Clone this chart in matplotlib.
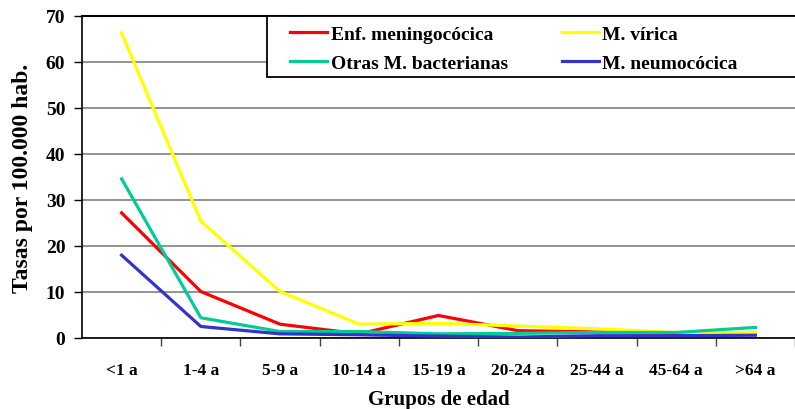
import matplotlib
matplotlib.use("Agg")
import matplotlib.pyplot as plt
from matplotlib.patches import Rectangle
import numpy as np

categories = ["<1 a", "1-4 a", "5-9 a", "10-14 a", "15-19 a", "20-24 a", "25-44 a", "45-64 a", ">64 a"]
enf_meningococica = [27.2, 10.1, 3.0, 0.9, 4.9, 1.6, 1.3, 1.0, 0.9]
m_virica = [66.3, 25.4, 10.1, 3.0, 3.2, 2.6, 2.0, 1.2, 1.2]
otras_bacterianas = [34.6, 4.4, 1.4, 1.4, 0.9, 1.0, 1.2, 1.2, 2.3]
m_neumococica = [18.0, 2.5, 0.9, 0.7, 0.4, 0.2, 0.5, 0.5, 0.6]
yticks = [0, 10, 20, 30, 40, 50, 60, 70]

series = [
    ("Enf. meningocócica", enf_meningococica, "#FF0000"),
    ("M. vírica", m_virica, "#FFFF00"),
    ("Otras M. bacterianas", otras_bacterianas, "#00CC99"),
    ("M. neumocócica", m_neumococica, "#3333CC"),
]

plt.rcParams['font.family'] = ['Liberation Serif', 'DejaVu Serif']
plt.rcParams['font.weight'] = 'bold'

W, H = 795, 410
fig = plt.figure(figsize=(W / 100, H / 100), dpi=100)
ax = fig.add_axes([82 / W, 1 - 339 / H, (795 - 82) / W, (339 - 17) / H])

x = np.arange(len(categories))
handles = {}
for name, vals, col in series:
    h, = ax.plot(x, vals, color=col, lw=2.3, label=name, zorder=3)
    handles[name] = h

ax.set_xlim(-0.5, (795 - 122) / 80.5)
ax.set_ylim(0, 70)
ax.set_yticks(yticks)
ax.set_yticklabels([str(v) for v in yticks], fontsize=14, fontweight='bold')
ax.set_xticks(x)
ax.set_xticklabels(categories, fontsize=12.5, fontweight='bold')
ax.set_xticks(np.arange(len(categories)) + 0.5, minor=True)
ax.tick_params(axis='x', which='major', length=0, pad=17)
ax.tick_params(axis='x', which='minor', length=6, width=1, color='#444444')
ax.tick_params(axis='y', length=6, width=1, pad=6)
ax.grid(axis='y', color='#808080', lw=1.2, zorder=1)
ax.spines['right'].set_visible(False)
ax.spines['top'].set_linewidth(1.5)
ax.spines['left'].set_linewidth(1.2)
ax.spines['bottom'].set_linewidth(1.2)

ax.set_ylabel("Tasas por 100.000 hab.", fontsize=17, fontweight='bold', labelpad=9)
ax.set_xlabel("Grupos de edad", fontsize=15, fontweight='bold', labelpad=8)

axw = 795 - 82
axh = 339 - 17
# legend frame
ax.add_patch(Rectangle(((267 - 82) / axw, (339 - 78) / axh), (840 - 267) / axw, 61 / axh,
                       transform=ax.transAxes, facecolor='white', edgecolor='black',
                       lw=1.3, zorder=4, clip_on=False))
order = ["Enf. meningocócica", "Otras M. bacterianas", "M. vírica", "M. neumocócica"]
leg = ax.legend([handles[n] for n in order], order, loc='upper left', ncol=2,
                bbox_to_anchor=((290 - 82) / axw, 1 - 9 / axh),
                prop={'family': 'Liberation Serif', 'weight': 'bold', 'size': 14},
                frameon=False, borderaxespad=0, borderpad=0, labelspacing=0.6,
                handlelength=1.9, handletextpad=0.2, columnspacing=2.76)
leg.set_zorder(5)

fig.savefig("out.png", dpi=100)
